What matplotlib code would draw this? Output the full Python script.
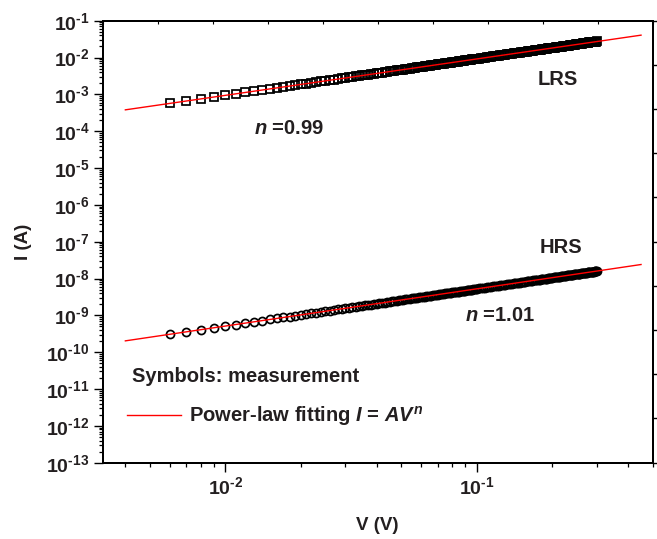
import numpy as np
import matplotlib
matplotlib.use("Agg")
import matplotlib.pyplot as plt
from matplotlib.ticker import LogLocator, FuncFormatter, NullFormatter

plt.rcParams["font.family"] = ["Liberation Sans", "DejaVu Sans"]
plt.rcParams["font.weight"] = "bold"
plt.rcParams["mathtext.fontset"] = "custom"
plt.rcParams["mathtext.rm"] = "Liberation Sans:bold"
plt.rcParams["mathtext.it"] = "Liberation Sans:italic:bold"
plt.rcParams["mathtext.bf"] = "Liberation Sans:bold"
plt.rcParams["mathtext.default"] = "rm"
plt.rcParams["axes.unicode_minus"] = False

TXT = "#231f20"

# voltage sweep: 1 mV steps to 0.1 V, then 2 mV steps
v_sweep = np.concatenate([np.arange(6, 101), np.arange(102, 301, 2)]) * 1e-3

# LRS current (mA)
lrs_ma = [
    0.568, 0.663, 0.758, 0.852,
    0.942, 1.04, 1.13, 1.23, 1.32,
    1.41, 1.50, 1.60, 1.69, 1.78,
    1.87, 1.96, 2.06, 2.15, 2.24, 2.34, 2.43, 2.53, 2.62, 2.71,
    2.79, 2.88, 2.98, 3.07, 3.16, 3.26, 3.35, 3.44, 3.53, 3.63,
    3.72, 3.81, 3.91, 4.00, 4.09, 4.19, 4.28, 4.37, 4.46, 4.56,
    4.63, 4.72, 4.81, 4.90, 5.00, 5.09, 5.18, 5.27, 5.37, 5.46,
    5.55, 5.64, 5.74, 5.83, 5.92, 6.01, 6.11, 6.20, 6.29, 6.38,
    6.48, 6.57, 6.66, 6.75, 6.85, 6.94, 7.03, 7.12, 7.22, 7.31,
    7.40, 7.49, 7.59, 7.68, 7.77, 7.86, 7.96, 8.05, 8.14, 8.23,
    8.33, 8.42, 8.51, 8.60, 8.70, 8.79, 8.88, 8.97, 9.07, 9.16,
    9.22,
    9.38, 9.57, 9.75, 9.94, 10.1, 10.3, 10.5, 10.7, 10.9, 11.0,
    11.2, 11.4, 11.6, 11.8, 12.0, 12.1, 12.3, 12.5, 12.7, 12.9,
    13.1, 13.2, 13.4, 13.6,
    13.8, 13.9, 14.1, 14.3, 14.5, 14.7, 14.9, 15.0, 15.2, 15.4,
    15.6, 15.8, 16.0, 16.1, 16.3, 16.5, 16.7, 16.9, 17.1, 17.2,
    17.4, 17.6, 17.8, 18.0, 18.2,
    18.3, 18.4, 18.6, 18.8, 19.0, 19.2, 19.4, 19.5, 19.7, 19.9,
    20.1, 20.3, 20.5, 20.6, 20.8, 21.0, 21.2, 21.4, 21.5, 21.7,
    21.9, 22.1, 22.3, 22.5, 22.6, 22.8, 23.0, 23.2, 23.4, 23.6,
    23.7, 23.9, 24.1, 24.3, 24.5, 24.7, 24.8, 25.0, 25.2, 25.4,
    25.6, 25.7, 25.9, 26.1, 26.3, 26.5, 26.7, 26.8, 27.0, 27.2,
    27.4,
]

# HRS current (nA)
hrs_na = [
    0.307, 0.358, 0.409, 0.460,
    0.513, 0.564, 0.616, 0.667, 0.718,
    0.773, 0.824, 0.876, 0.927, 0.979,
    1.03, 1.09, 1.14, 1.19, 1.24, 1.29, 1.34, 1.40, 1.45, 1.50,
    1.56, 1.61, 1.66, 1.71, 1.77, 1.82, 1.87, 1.92, 1.97, 2.03,
    2.08, 2.13, 2.18, 2.23, 2.29, 2.34, 2.39, 2.44, 2.49, 2.55,
    2.61, 2.67, 2.72, 2.77, 2.82, 2.87, 2.93, 2.98, 3.03, 3.08,
    3.14, 3.19, 3.24, 3.29, 3.34, 3.40, 3.45, 3.50, 3.55, 3.61,
    3.66, 3.71, 3.76, 3.81, 3.87, 3.92, 3.97, 4.02, 4.08, 4.13,
    4.18, 4.23, 4.29, 4.34, 4.39, 4.44, 4.49, 4.55, 4.60, 4.65,
    4.70, 4.76, 4.81, 4.86, 4.91, 4.96, 5.02, 5.07, 5.12, 5.17,
    5.24,
    5.36, 5.47, 5.57, 5.68, 5.78, 5.89, 5.99, 6.10, 6.20, 6.31,
    6.41, 6.52, 6.62, 6.73, 6.83, 6.94, 7.04, 7.15, 7.25, 7.36,
    7.46, 7.57, 7.67, 7.78,
    7.91, 8.01, 8.12, 8.22, 8.33, 8.43, 8.54, 8.64, 8.75, 8.85,
    8.96, 9.06, 9.17, 9.28, 9.38, 9.49, 9.59, 9.70, 9.80, 9.91,
    10.0, 10.1, 10.2, 10.3, 10.4,
    10.6, 10.7, 10.8, 10.9, 11.0, 11.1, 11.2, 11.3, 11.4, 11.5,
    11.6, 11.7, 11.9, 12.0, 12.1, 12.2, 12.3, 12.4, 12.5, 12.6,
    12.7, 12.8, 12.9, 13.0, 13.1, 13.2, 13.3, 13.4, 13.5, 13.6,
    13.8, 13.9, 14.0, 14.1, 14.2, 14.3, 14.4, 14.5, 14.6, 14.7,
    14.8, 14.9, 15.0, 15.1, 15.2, 15.3, 15.4, 15.6, 15.7, 15.8,
    15.9,
]

# power-law fit lines, end points
fit_v = [0.004, 0.45]
lrs_fit = [3.8e-4, 0.0405]
hrs_fit = [2.03e-10, 2.40e-8]

lrs_i = np.array(lrs_ma) * 1e-3
hrs_i = np.array(hrs_na) * 1e-9

fig = plt.figure(figsize=(6.57, 5.39), dpi=100)
ax = fig.add_axes([0.1563, 0.1416, 0.8369, 0.8200])

ax.plot(v_sweep, lrs_i, ls="none", marker="s", ms=5.4, mfc="none", mec="black", mew=1.25, zorder=2)
ax.plot(v_sweep, hrs_i, ls="none", marker="o", ms=5.8, mfc="none", mec="black", mew=1.25, zorder=2)
fit_line, = ax.plot(fit_v, lrs_fit, color="red", lw=1.0, zorder=3)
ax.plot(fit_v, hrs_fit, color="red", lw=1.0, zorder=3)

ax.set_xscale("log")
ax.set_yscale("log")
ax.set_xlim(0.00325, 0.5)
ax.set_ylim(1e-13, 1e-1)


def pow_fmt(v, pos):
    e = int(round(np.log10(v)))
    return r"$10^{\text{%d}}$" % e


ax.xaxis.set_major_locator(LogLocator(base=10, numticks=20))
ax.xaxis.set_minor_locator(LogLocator(base=10, subs=range(2, 10), numticks=100))
ax.yaxis.set_major_locator(LogLocator(base=10, numticks=30))
ax.yaxis.set_minor_locator(LogLocator(base=10, subs=range(2, 10), numticks=200))
ax.xaxis.set_major_formatter(FuncFormatter(pow_fmt))
ax.yaxis.set_major_formatter(FuncFormatter(pow_fmt))
ax.xaxis.set_minor_formatter(NullFormatter())
ax.yaxis.set_minor_formatter(NullFormatter())

ax.tick_params(which="major", direction="out", length=6.5, width=1.0, labelsize=14,
               colors="black", labelcolor=TXT, pad=3, top=False, right=False)
ax.tick_params(which="minor", direction="out", length=3.2, width=0.9, top=False, right=False)
for s in ax.spines.values():
    s.set_linewidth(1.3)

# decorative opposite-axis ticks
ax_top = ax.twiny()
ax_top.set_xlim(0, 10)
ax_top.set_xticks(range(11))
ax_top.tick_params(axis="x", direction="in", length=2, width=0.8, labeltop=False)
ax_right = ax.twinx()
ax_right.set_ylim(0, 10)
ax_right.set_yticks(range(11))
ax_right.tick_params(axis="y", direction="out", length=3.5, width=1.0, labelright=False)
for a in (ax_top, ax_right):
    for s in a.spines.values():
        s.set_linewidth(1.3)

ax.set_xlabel("V (V)", fontsize=13.5, fontweight="bold", color=TXT, labelpad=14)
ax.set_ylabel("I (A)", fontsize=13.5, fontweight="bold", color=TXT, labelpad=10)

tkw = dict(transform=ax.transAxes, fontsize=14.5, fontweight="bold", color=TXT, ha="center", va="center")
ax.text(0.828, 0.866, "LRS", **tkw)
ax.text(0.834, 0.486, "HRS", **tkw)
ax.text(0.339, 0.757, r"$\mathit{n}$ =0.99", **tkw)
ax.text(0.7226, 0.334, r"$\mathit{n}$ =1.01", **tkw)
ax.text(0.0533, 0.194, "Symbols: measurement", transform=ax.transAxes, fontsize=14.5,
        fontweight="bold", color=TXT, ha="left", va="center")

leg = ax.legend([fit_line], [r"Power-law fitting $\mathit{I}$ = $\mathit{AV}^{\mathit{n}}$"],
                loc="center left", bbox_to_anchor=(0.044, 0.1057), frameon=False,
                fontsize=14.5, handlelength=2.7, handletextpad=0.4, borderpad=0, borderaxespad=0)
for t in leg.get_texts():
    t.set_color(TXT)

fig.savefig("out.png", dpi=100)
